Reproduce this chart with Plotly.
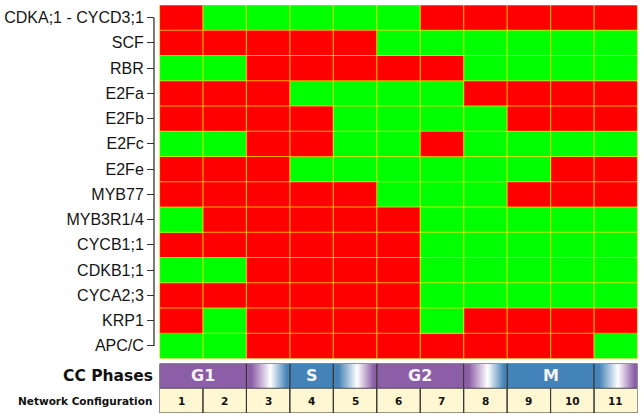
import base64
import plotly.graph_objects as go

# ---------------- data ----------------
genes = ["CDKA;1 - CYCD3;1", "SCF", "RBR", "E2Fa", "E2Fb", "E2Fc", "E2Fe",
         "MYB77", "MYB3R1/4", "CYCB1;1", "CDKB1;1", "CYCA2;3", "KRP1", "APC/C"]
configs = [1, 2, 3, 4, 5, 6, 7, 8, 9, 10, 11]
# 1 = active (green), 0 = inactive (red)
states = [
    [0, 1, 1, 1, 1, 1, 0, 0, 0, 0, 0],  # CDKA;1 - CYCD3;1
    [0, 0, 0, 0, 0, 1, 1, 1, 1, 1, 1],  # SCF
    [1, 1, 0, 0, 0, 0, 0, 1, 1, 1, 1],  # RBR
    [0, 0, 0, 1, 1, 1, 1, 0, 0, 0, 0],  # E2Fa
    [0, 0, 0, 0, 1, 1, 1, 1, 0, 0, 0],  # E2Fb
    [1, 1, 0, 0, 1, 1, 0, 1, 1, 1, 1],  # E2Fc
    [0, 0, 0, 1, 1, 1, 1, 1, 1, 0, 0],  # E2Fe
    [0, 0, 0, 0, 0, 1, 1, 1, 0, 0, 0],  # MYB77
    [1, 0, 0, 0, 0, 0, 1, 1, 1, 1, 1],  # MYB3R1/4
    [0, 0, 0, 0, 0, 0, 1, 1, 1, 1, 1],  # CYCB1;1
    [1, 1, 0, 0, 0, 0, 1, 1, 1, 1, 1],  # CDKB1;1
    [0, 0, 0, 0, 0, 0, 1, 1, 1, 1, 1],  # CYCA2;3
    [0, 1, 0, 0, 0, 0, 1, 0, 0, 0, 0],  # KRP1
    [1, 1, 0, 0, 0, 0, 0, 0, 0, 0, 1],  # APC/C
]
phase_names = ["G1", "S", "G2", "M"]
phase_start = [1, 4, 6, 9]
phase_end = [2, 4, 7, 10]
transition_cols = [3, 5, 8, 11]

# ---------------- style ----------------
W, H = 644, 420
RED, GREEN = "#ff0000", "#00ff00"
PURPLE, BLUE = "#8c5ea8", "#4483b8"
CREAM = "#fff7d2"
GRID = "rgba(255,225,0,0.75)"
EDGE = "#333333"

def px_x(p):
    return p / W

def px_y(p):
    return 1 - p / H

x_dom = [px_x(159.5), px_x(637.5)]
main_dom = [px_y(358.5), px_y(5)]
phase_dom = [px_y(388.3), px_y(363.5)]
conf_dom = [px_y(413), px_y(388.3)]

fig = go.Figure()
fig.add_trace(go.Heatmap(
    z=states, x=configs, y=genes,
    colorscale=[[0, RED], [0.5, RED], [0.5, GREEN], [1, GREEN]],
    zmin=0, zmax=1, showscale=False, hoverinfo="skip",
    xaxis="x", yaxis="y"))

# empty trace so that the phase subplot exists
fig.add_trace(go.Scatter(x=[None], y=[None], xaxis="x", yaxis="y2",
                         mode="markers", hoverinfo="skip", showlegend=False))

# config row fill as heatmap
fig.add_trace(go.Heatmap(
    z=[[0] * len(configs)], x=configs, y=[0],
    colorscale=[[0, CREAM], [1, CREAM]], showscale=False,
    hoverinfo="skip", xaxis="x", yaxis="y3"))

shapes = []
n = len(genes)
nc = len(configs)
# grid lines on main heatmap
for c in range(nc - 1):
    shapes.append(dict(type="line", xref="x", yref="y",
                       x0=configs[c] + 0.5, x1=configs[c] + 0.5, y0=-0.5, y1=n - 0.5,
                       line=dict(color=GRID, width=1.2)))
for r in range(n - 1):
    shapes.append(dict(type="line", xref="x", yref="y",
                       x0=0.5, x1=nc + 0.5, y0=r + 0.5, y1=r + 0.5,
                       line=dict(color=GRID, width=1.2)))
shapes.append(dict(type="rect", xref="x", yref="y",
                   x0=0.5, x1=nc + 0.5, y0=-0.5, y1=n - 0.5,
                   line=dict(color=GRID, width=1.2)))
# y axis line (spans first to last tick)
shapes.append(dict(type="line", xref="paper", yref="y",
                   x0=px_x(154), x1=px_x(154), y0=0, y1=n - 1,
                   line=dict(color=EDGE, width=1.3)))

def phase_color(i):
    return PURPLE if i % 2 == 0 else BLUE

images = []
for i, name in enumerate(phase_names):
    shapes.append(dict(type="rect", xref="x", yref="y2",
                       x0=phase_start[i] - 0.5, x1=phase_end[i] + 0.5, y0=0, y1=1,
                       fillcolor=phase_color(i), line=dict(color=EDGE, width=1),
                       layer="below"))

def grad_svg(c0, c1):
    svg = ('<svg xmlns="http://www.w3.org/2000/svg" width="100" height="20" '
           'viewBox="0 0 100 20" preserveAspectRatio="none">'
           '<defs><linearGradient id="g" x1="0" x2="1" y1="0" y2="0">'
           f'<stop offset="0" stop-color="{c0}"/>'
           f'<stop offset="0.12" stop-color="{c0}"/>'
           '<stop offset="0.55" stop-color="#ffffff"/>'
           f'<stop offset="0.93" stop-color="{c1}"/>'
           f'<stop offset="1" stop-color="{c1}"/>'
           '</linearGradient></defs>'
           '<rect x="0" y="0" width="100" height="20" fill="url(#g)"/></svg>')
    return "data:image/svg+xml;base64," + base64.b64encode(svg.encode()).decode()

for k, col in enumerate(transition_cols):
    c0 = phase_color(k)
    c1 = phase_color(k + 1)
    images.append(dict(source=grad_svg(c0, c1), xref="x", yref="y2",
                       x=col - 0.5, y=1, sizex=1, sizey=1, sizing="stretch",
                       xanchor="left", yanchor="top", layer="above"))
    shapes.append(dict(type="rect", xref="x", yref="y2",
                       x0=col - 0.5, x1=col + 0.5, y0=0, y1=1,
                       line=dict(color=EDGE, width=1)))

# config row borders
for c in configs:
    shapes.append(dict(type="rect", xref="x", yref="y3",
                       x0=c - 0.5, x1=c + 0.5, y0=-0.5, y1=0.5,
                       line=dict(color=EDGE, width=1)))

annotations = []
for i, name in enumerate(phase_names):
    annotations.append(dict(text=f"<b>{name}</b>", xref="x", yref="y2",
                            x=(phase_start[i] + phase_end[i]) / 2, y=0.5,
                            showarrow=False, xanchor="center", yanchor="middle",
                            font=dict(family="DejaVu Sans", size=16, color="#f4f4f4")))
for c in configs:
    annotations.append(dict(text=f"<b>{c}</b>", xref="x", yref="y3",
                            x=c, y=0, showarrow=False,
                            xanchor="center", yanchor="middle",
                            font=dict(family="DejaVu Sans", size=10.5, color="#111111")))
annotations.append(dict(text="<b>CC Phases</b>", xref="paper", yref="paper",
                        x=px_x(155), y=px_y(376), showarrow=False,
                        xanchor="right", yanchor="middle",
                        font=dict(family="DejaVu Sans", size=15.5, color="#111111")))
annotations.append(dict(text="<b>Network Configuration</b>", xref="paper", yref="paper",
                        x=px_x(154), y=px_y(400.5), showarrow=False,
                        xanchor="right", yanchor="middle",
                        font=dict(family="DejaVu Sans", size=10.5, color="#111111")))

fig.update_layout(
    width=W, height=H, margin=dict(l=0, r=0, t=0, b=0, autoexpand=False),
    paper_bgcolor="white", plot_bgcolor="white",
    xaxis=dict(domain=x_dom, range=[0.5, 11.5], showticklabels=False, ticks="",
               showgrid=False, zeroline=False, showline=False, anchor="y"),
    yaxis=dict(domain=main_dom, range=[n - 0.5, -0.5], anchor="free",
               position=px_x(154), type="category",
               ticks="outside", ticklen=7, tickwidth=1.3, tickcolor=EDGE,
               showgrid=False, zeroline=False, showline=False,
               tickfont=dict(family="Liberation Sans, Arial, sans-serif",
                             size=16, color="#151515")),
    yaxis2=dict(domain=phase_dom, range=[0, 1], anchor="x", visible=False),
    yaxis3=dict(domain=conf_dom, range=[-0.5, 0.5], anchor="x", visible=False),
    shapes=shapes, images=images, annotations=annotations,
    showlegend=False,
)

fig.write_html("out.html", config={"displayModeBar": False},
               post_script="document.body.style.margin='0';document.body.style.overflow='hidden';")
